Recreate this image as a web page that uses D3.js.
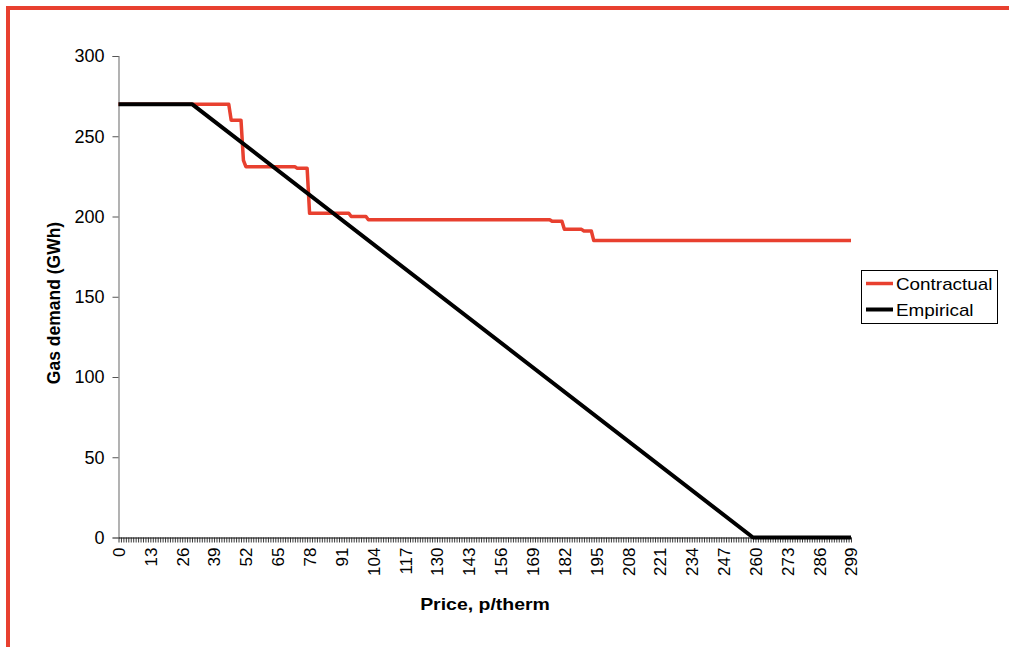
<!DOCTYPE html>
<html>
<head>
<meta charset="utf-8">
<script src="https://cdn.jsdelivr.net/npm/d3@7"></script>
<style>
  html, body { margin: 0; padding: 0; background: #fff; }
  svg { display: block; font-family: "Liberation Sans", Arial, sans-serif; }
</style>
</head>
<body>
<svg id="chart" width="1010" height="647"></svg>
<script>
// Price categories, p/therm (0 .. 299), and the ones that carry a label
const prices = d3.range(0, 300);
const labelledPrices = [0, 13, 26, 39, 52, 65, 78, 91, 104, 117, 130, 143, 156, 169,
  182, 195, 208, 221, 234, 247, 260, 273, 286, 299];
const demandTicks = [0, 50, 100, 150, 200, 250, 300];

// Contractual demand (GWh): a level held up to and including the given price
const contractualLevels = [270, 260, 235, 231, 230, 202, 200, 198, 197, 192, 191, 185];
const contractualRunEnds = [45, 50, 51, 72, 77, 94, 101, 176, 181, 189, 193, 299];

// Empirical demand (GWh) at its break points; straight between them
const empiricalPrices = [0, 30, 259, 299];
const empiricalDemand = [270, 270, 0, 0];

const seriesNames = ["Contractual", "Empirical"];
const seriesColors = ["#e8402f", "#000000"];

// expand the contractual runs into one value per price category
const contractual = [];
let start = 0;
contractualLevels.forEach((lvl, i) => {
  for (let p = start; p <= contractualRunEnds[i]; p++) contractual.push({ p, v: lvl });
  start = contractualRunEnds[i] + 1;
});
const empirical = empiricalPrices.map((p, i) => ({ p, v: empiricalDemand[i] }));

const svg = d3.select("#chart");

// outer frame (top and left edges)
svg.append("rect").attr("x", 6).attr("y", 6).attr("width", 1003).attr("height", 4).attr("fill", "#e8402f");
svg.append("rect").attr("x", 6).attr("y", 6).attr("width", 4).attr("height", 641).attr("fill", "#e8402f");

const x = d3.scalePoint().domain(prices).range([118.5, 851]);
const y = d3.scaleLinear().domain([0, 300]).range([537.5, 56]);

// y axis
const yAxis = svg.append("g").attr("transform", "translate(118.5,0)")
  .call(d3.axisLeft(y).tickValues(demandTicks).tickSize(6).tickPadding(8));
yAxis.select(".domain").attr("stroke", "#808080").attr("stroke-width", 1.2);
yAxis.selectAll(".tick line").attr("stroke", "#555");
yAxis.selectAll(".tick text").attr("font-size", 18).attr("fill", "#000")
  .attr("font-family", "Liberation Sans, Arial, sans-serif");

// x axis: a tick on every category, a label on every 13th
const xAxis = svg.append("g").attr("transform", "translate(0,537.5)")
  .call(d3.axisBottom(x).tickValues(prices).tickSize(5).tickSizeOuter(0)
    .tickFormat(d => labelledPrices.includes(d) ? d : ""));
xAxis.select(".domain").attr("stroke", "#000").attr("stroke-width", 1.2);
xAxis.selectAll(".tick line").attr("stroke", "#222").attr("stroke-width", 0.9);
xAxis.selectAll(".tick text")
  .attr("font-size", 17).attr("fill", "#000")
  .attr("font-family", "Liberation Sans, Arial, sans-serif")
  .attr("text-anchor", "end")
  .attr("dy", "0.35em")
  .attr("transform", "translate(0,10) rotate(-90)")
  .attr("x", 0).attr("y", 0);

// series lines
const line = d3.line().x(d => x(d.p)).y(d => y(d.v));
svg.append("path").datum(contractual).attr("d", line)
  .attr("fill", "none").attr("stroke", seriesColors[0]).attr("stroke-width", 3.5)
  .attr("stroke-linejoin", "round");
svg.append("path").datum(empirical).attr("d", line)
  .attr("fill", "none").attr("stroke", seriesColors[1]).attr("stroke-width", 4)
  .attr("stroke-linejoin", "round");

// axis titles
svg.append("text")
  .attr("transform", "translate(485,610) scale(1.18,1)")
  .attr("text-anchor", "middle").attr("font-size", 16.5).attr("font-weight", "bold")
  .text("Price, p/therm");
svg.append("text")
  .attr("transform", "translate(60,303) rotate(-90)")
  .attr("text-anchor", "middle").attr("font-size", 17.5).attr("font-weight", "bold")
  .text("Gas demand (GWh)");

// legend
const legend = svg.append("g");
legend.append("rect").attr("x", 861.5).attr("y", 270.5).attr("width", 136).attr("height", 53)
  .attr("fill", "#fff").attr("stroke", "#000").attr("stroke-width", 1);
seriesNames.forEach((name, i) => {
  const yy = 283.5 + i * 26;
  legend.append("line").attr("x1", 866).attr("x2", 893).attr("y1", yy).attr("y2", yy)
    .attr("stroke", seriesColors[i]).attr("stroke-width", i === 0 ? 3.5 : 4);
  legend.append("text")
    .attr("transform", `translate(896,${yy + 6}) scale(1.18,1)`)
    .attr("font-size", 16).attr("fill", "#000").text(name);
});
</script>
</body>
</html>
